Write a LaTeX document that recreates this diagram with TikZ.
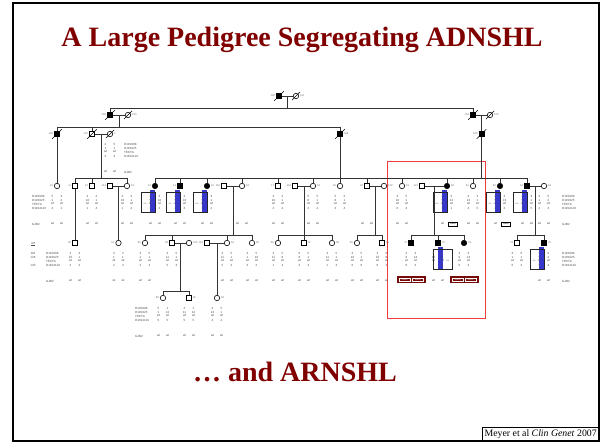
\documentclass[tikz,border=0pt]{standalone}
\usepackage{fontspec}
\setmainfont{Liberation Serif}
\newfontfamily\arialf{Liberation Sans}
\usetikzlibrary{calc}
\definecolor{titred}{RGB}{128,0,0}
\definecolor{hapblue}{RGB}{55,55,205}
\definecolor{mutred}{RGB}{120,10,10}
\definecolor{framered}{RGB}{240,60,60}
\newcommand{\gfont}{\arialf\fontsize{3}{3}\selectfont}
\newcommand{\ifont}{\arialf\fontsize{2.6}{2.6}\selectfont}
\newcommand{\cfont}{\arialf\fontsize{1.8}{1.8}\selectfont}
\tikzset{
 ln/.style={draw=black!80, line width=0.7pt},
 msq/.style={draw=black, rectangle, minimum size=5pt, inner sep=0pt, fill=white, line width=0.6pt},
 fci/.style={draw=black, circle, minimum size=5.4pt, inner sep=0pt, fill=white, line width=0.6pt},
 aff/.style={fill=black},
 slash/.style={draw=black, line width=0.45pt},
 idl/.style={font=\ifont, text=black!60, inner sep=0pt},
 gtx/.style={font=\gfont, text=black!70, inner sep=0pt},
 mk/.style={font=\gfont, text=black!70, inner sep=0pt, anchor=west},
 hapbox/.style={draw=black!85, line width=0.6pt},
 hapbar/.style={fill=hapblue},
 critx/.style={font=\cfont, text=black!70, inner sep=0pt},
 mutbox/.style={fill=mutred, draw=mutred, minimum width=28pt, minimum height=6pt, inner sep=0pt},
 mutin/.style={draw=white, line width=0.3pt, minimum width=11pt, minimum height=3.2pt, inner sep=0pt, font=\cfont, text=white},
 hetbox/.style={draw=black, fill=white, line width=0.4pt, minimum width=9pt, minimum height=4.5pt, inner sep=0pt, font=\cfont},
 redbox/.style={draw=framered, line width=0.9pt},
 ttl/.style={font=\bfseries\fontsize{28}{30}\selectfont, text=titred, inner sep=0pt, anchor=base},
}
\newcommand{\gtyp}[4]{\foreach \ga/\gb [count=\gi] in {#4}{%
  \node[gtx] (#1a\gi) at ({#2-4.5},{#3+6+4*\gi}) {\ga};
  \node[gtx] (#1b\gi) at ({#2+4.5},{#3+6+4*\gi}) {\gb};}}
\newcommand{\gjb}[3]{\node[gtx] (#1w1) at ({#2-4.5},{#3+38}) {wt}; \node[gtx] (#1w2) at ({#2+4.5},{#3+38}) {wt};}
\newcommand{\gjbhet}[3]{\node[gtx] (#1w1) at ({#2-4.5},{#3+38}) {wt}; \node[hetbox] (#1w2) at ({#2+6},{#3+38}) {35delG};}
\newcommand{\gjbmut}[3]{\node[mutbox] (#1mb) at ({#2},{#3+36.5}) {}; \node[mutin] (#1m1) at ({#2-6.5},{#3+36.5}) {35delG}; \node[mutin] (#1m2) at ({#2+6.5},{#3+36.5}) {35delG};}
\newcommand{\hapL}[3]{\fill[hapbar] ({#2-5},{#3+4}) rectangle ({#2},{#3+27}); \draw[hapbox] ({#2-14},{#3+6}) rectangle ({#2},{#3+26}); \node[critx] (#1c) at ({#2-10},{#3+18}) {Crit};}
\newcommand{\hapR}[3]{\fill[hapbar] ({#2},{#3+4}) rectangle ({#2+5},{#3+27}); \draw[hapbox] ({#2-5},{#3+6}) rectangle ({#2+14},{#3+26}); \node[critx] (#1c) at ({#2+9.5},{#3+18}) {Crit};}
\newcommand{\mkrs}[3]{\node[mk] (#1m1) at (#2,{#3+10}) {D11S908}; \node[mk] (#1m2) at (#2,{#3+14}) {D11S925}; \node[mk] (#1m3) at (#2,{#3+18}) {TECTA}; \node[mk] (#1m4) at (#2,{#3+22}) {D11S4110}; \node[mk] (#1m5) at (#2,{#3+38}) {GJB2};}
\newcommand{\lidl}[2]{\node[idl,anchor=east] (#1-l) at ([xshift=-1pt]#1.west) {#2};}
\newcommand{\ridl}[2]{\node[idl,anchor=west] (#1-l) at ([xshift=1pt]#1.east) {#2};}
\newcommand{\deceased}[1]{\draw[slash] ([shift={(-2pt,-2pt)}]#1.south west) -- ([shift={(2pt,2pt)}]#1.north east);}
\newcommand{\sibdrop}[2]{\draw[ln] (#1) -- (#1 |- #2);}
\begin{document}
\begin{tikzpicture}[x=1pt,y=-1pt]
\useasboundingbox (0,0) rectangle (602,444);
\fill[white] (0,0) rectangle (602,444);
\draw[black, line width=1.6pt] (13,3) rectangle (599,441);
\node[ttl] (title) at (302,47) {A Large Pedigree Segregating ADNSHL};
\node[ttl] (arnshl) at (295,381) {\ldots\ and ARNSHL};
\node[draw=black, line width=0.6pt, fill=white, inner sep=2pt, font=\fontsize{9.8}{10}\selectfont, anchor=south east] (cite) at (599,441) {Meyer et al \textit{Clin Genet} 2007};
\draw[redbox] (387,161) rectangle (485,318);

% ---------- haplotype boxes ----------
\hapL{h13}{155}{186} \hapL{h14}{180}{186} \hapL{h15}{207}{186}
\hapL{h60}{447}{186} \hapL{h62}{500}{186} \hapL{h63}{527}{186}
\hapR{h72}{438}{243} \hapL{h75}{544}{243}

% ---------- Generation I ----------
\node[msq,aff] (I1) at (279,96) {};
\node[fci] (I2) at (296,96) {};
% ---------- Generation II ----------
\node[msq,aff] (II1) at (110,115) {};
\node[fci] (II2) at (128,115) {};
\node[msq,aff] (II3) at (473,115) {};
\node[fci] (II4) at (490,115) {};
% ---------- Generation III ----------
\node[msq,aff] (III1) at (57,134) {};
\node[msq] (III2) at (92,134) {};
\node[fci] (III3) at (110,134) {};
\node[msq,aff] (III4) at (340,134) {};
\node[msq,aff] (III6) at (481.5,134) {};
% ---------- Generation IV ----------
\node[fci] (IV10) at (57,186) {};
\node[msq] (IV11) at (75,186) {};
\node[msq] (IV12) at (92,186) {};
\node[msq] (IV13s) at (110,186) {};
\node[fci] (IV52) at (127,186) {};
\node[fci,aff] (IV13) at (155,186) {};
\node[msq,aff] (IV14) at (180,186) {};
\node[fci,aff] (IV15) at (207,186) {};
\node[msq] (IV116) at (224,186) {};
\node[fci] (IV16) at (242,186) {};
\node[msq] (IV17) at (278,186) {};
\node[msq] (IV118) at (295,186) {};
\node[fci] (IV18) at (313,186) {};
\node[fci] (IV19) at (340,186) {};
\node[msq] (IV20) at (367,186) {};
\node[fci] (IV120) at (384,186) {};
\node[fci] (IV21) at (402,186) {};
\node[msq] (IV121) at (422,186) {};
\node[fci,aff] (IV60) at (447,186) {};
\node[fci] (IV61) at (473,186) {};
\node[fci,aff] (IV62) at (500,186) {};
\node[msq,aff] (IV63) at (527,186) {};
\node[fci] (IV64) at (544,186) {};
% ---------- Generation V ----------
\node[msq] (V50) at (75,243) {};
\node[fci] (V51) at (118.5,243) {};
\node[fci] (V52) at (145,243) {};
\node[msq] (V53) at (172,243) {};
\node[fci] (V122) at (189,243) {};
\node[msq] (V123) at (207,243) {};
\node[fci] (V54) at (227,243) {};
\node[fci] (V55) at (252,243) {};
\node[fci] (V56) at (278,243) {};
\node[msq] (V57) at (304,243) {};
\node[fci] (V58) at (332,243) {};
\node[fci] (V59) at (357,243) {};
\node[msq] (V69) at (382,243) {};
\node[msq,aff] (V71) at (411,243) {};
\node[msq,aff] (V72) at (438,243) {};
\node[fci,aff] (V73) at (464,243) {};
\node[msq] (V74) at (517,243) {};
\node[msq,aff] (V75) at (544,243) {};
% ---------- Generation VI ----------
\node[fci] (VI80) at (163,298) {};
\node[msq] (VI81) at (189,298) {};
\node[fci] (VI82) at (217,298) {};

% ---------- deceased ----------
\deceased{I1} \deceased{I2} \deceased{II1} \deceased{II2} \deceased{II3} \deceased{II4}
\deceased{III1} \deceased{III2} \deceased{III3} \deceased{III4} \deceased{III6}

% ---------- IDs ----------
\lidl{I1}{100} \ridl{I2}{101} \lidl{II1}{102} \ridl{II2}{103} \lidl{II3}{104} \ridl{II4}{105}
\lidl{III1}{106} \lidl{III2}{107} \ridl{III3}{1} \ridl{III4}{108} \lidl{III6}{109}
\lidl{IV10}{10} \lidl{IV11}{11} \lidl{IV12}{12} \lidl{IV13s}{113} \ridl{IV52}{52}
\lidl{IV13}{13} \lidl{IV14}{14} \ridl{IV15}{15} \lidl{IV116}{116} \ridl{IV16}{16}
\lidl{IV17}{17} \lidl{IV118}{118} \ridl{IV18}{18} \lidl{IV19}{19} \lidl{IV20}{20}
\ridl{IV120}{120} \ridl{IV21}{21} \lidl{IV121}{121} \ridl{IV60}{60} \lidl{IV61}{61}
\lidl{IV62}{62} \lidl{IV63}{63} \ridl{IV64}{64}
\lidl{V50}{50} \lidl{V51}{51} \lidl{V52}{52} \lidl{V53}{53} \ridl{V122}{122}
\lidl{V123}{123} \ridl{V54}{54} \ridl{V55}{55} \lidl{V56}{56} \ridl{V57}{57}
\ridl{V58}{58} \lidl{V59}{59} \ridl{V69}{69} \lidl{V71}{71} \ridl{V72}{72}
\ridl{V73}{73} \lidl{V74}{74} \ridl{V75}{75}
\lidl{VI80}{80} \ridl{VI81}{81} \ridl{VI82}{82}

% ---------- connectors ----------
\draw[ln] (I1) -- (I2);
\coordinate (mI) at ($(I1)!0.5!(I2)$);
\coordinate (sII) at (287.5,108);
\draw[ln] (mI) -- (sII);
\draw[ln] (II1 |- sII) -- (II3 |- sII);
\sibdrop{II1}{sII} \sibdrop{II3}{sII}
\draw[ln] (II1) -- (II2);
\coordinate (mII1) at ($(II1)!0.5!(II2)$);
\coordinate (sIII) at (119,127);
\draw[ln] (mII1) -- (sIII);
\draw[ln] (III1 |- sIII) -- (III4 |- sIII);
\sibdrop{III1}{sIII} \sibdrop{III2}{sIII} \sibdrop{III4}{sIII}
\draw[ln] (II3) -- (II4);
\coordinate (mII2) at ($(II3)!0.5!(II4)$);
\draw[ln] (mII2) -- (III6);
\draw[ln] (III1) -- (IV10);
\draw[ln] (III2) -- (III3);
\coordinate (mIII) at ($(III2)!0.5!(III3)$);
\coordinate (sIVB) at (101,178);
\draw[ln] (mIII) -- (sIVB);
\draw[ln] (IV11 |- sIVB) -- (IV52 |- sIVB);
\sibdrop{IV11}{sIVB} \sibdrop{IV12}{sIVB} \sibdrop{IV52}{sIVB}
\coordinate (sIVC) at (340,178);
\draw[ln] (III4) -- (sIVC);
\draw[ln] (IV13 |- sIVC) -- (IV21 |- sIVC);
\sibdrop{IV13}{sIVC} \sibdrop{IV14}{sIVC} \sibdrop{IV15}{sIVC} \sibdrop{IV16}{sIVC}
\sibdrop{IV17}{sIVC} \sibdrop{IV18}{sIVC} \sibdrop{IV19}{sIVC} \sibdrop{IV20}{sIVC} \sibdrop{IV21}{sIVC}
\coordinate (sIVD) at (481.5,178);
\draw[ln] (III6) -- (sIVD);
\draw[ln] (IV21 |- sIVD) -- (IV63 |- sIVD);
\sibdrop{IV60}{sIVD} \sibdrop{IV61}{sIVD} \sibdrop{IV62}{sIVD} \sibdrop{IV63}{sIVD}
\draw[ln] (IV13s) -- (IV52);
\draw[ln] (IV116) -- (IV16);
\draw[ln] (IV118) -- (IV18);
\draw[ln] (IV20) -- (IV120);
\draw[ln] (IV121) -- (IV60);
\draw[ln] (IV63) -- (IV64);
\draw[ln] (IV11) -- (V50);
\coordinate (mIVb) at ($(IV13s)!0.5!(IV52)$);
\draw[ln] (mIVb) -- (V51);
\coordinate (mIVc) at ($(IV116)!0.5!(IV16)$);
\coordinate (sVa) at (233,235);
\draw[ln] (mIVc) -- (sVa);
\draw[ln] (V52 |- sVa) -- (V55 |- sVa);
\sibdrop{V52}{sVa} \sibdrop{V53}{sVa} \sibdrop{V54}{sVa} \sibdrop{V55}{sVa}
\coordinate (mIVd) at ($(IV118)!0.5!(IV18)$);
\coordinate (sVb) at (304,235);
\draw[ln] (mIVd) -- (sVb);
\draw[ln] (V56 |- sVb) -- (V58 |- sVb);
\sibdrop{V56}{sVb} \sibdrop{V57}{sVb} \sibdrop{V58}{sVb}
\coordinate (mIVe) at ($(IV20)!0.5!(IV120)$);
\coordinate (sVc) at (375.5,235);
\draw[ln] (mIVe) -- (sVc);
\draw[ln] (V59 |- sVc) -- (V69 |- sVc);
\sibdrop{V59}{sVc} \sibdrop{V69}{sVc}
\coordinate (mIVf) at ($(IV121)!0.5!(IV60)$);
\coordinate (sVd) at (434.5,235);
\draw[ln] (mIVf) -- (sVd);
\draw[ln] (V71 |- sVd) -- (V73 |- sVd);
\sibdrop{V71}{sVd} \sibdrop{V72}{sVd} \sibdrop{V73}{sVd}
\coordinate (mIVg) at ($(IV63)!0.5!(IV64)$);
\coordinate (sVe) at (535.5,235);
\draw[ln] (mIVg) -- (sVe);
\draw[ln] (V74 |- sVe) -- (V75 |- sVe);
\sibdrop{V74}{sVe} \sibdrop{V75}{sVe}
\draw[ln] (V53) -- (V122);
\draw[ln] (V123) -- (V54);
\coordinate (mVa) at ($(V53)!0.5!(V122)$);
\coordinate (sVIa) at (180.5,291);
\draw[ln] (mVa) -- (sVIa);
\draw[ln] (VI80 |- sVIa) -- (VI81 |- sVIa);
\sibdrop{VI80}{sVIa} \sibdrop{VI81}{sVIa}
\coordinate (mVb) at ($(V123)!0.5!(V54)$);
\draw[ln] (mVb) -- (VI82);

% ---------- marker labels ----------
\mkrs{m3}{124}{134}
\mkrs{m4l}{32}{186}
\mkrs{m4r}{562}{186}
\mkrs{m5l}{46}{243}
\mkrs{m5r}{562}{243}
\mkrs{m6}{135}{298}
\node[gtx] (cM) at (33,244) {\underline{cM}};
\node[gtx] (cM1) at (33,253) {116};
\node[gtx] (cM2) at (33,257) {126};
\node[gtx] (cM4) at (33,265) {135};

% ---------- genotypes ----------
\gtyp{g3}{110}{134}{2/5,1/1,wt/wt,4/4} \gjb{g3}{110}{134}
\gtyp{g10}{57}{186}{5/3,1/2,wt/wt,4/1} \gjb{g10}{57}{186}
\gtyp{g12}{92}{186}{3/2,10/1,wt/wt,1/4} \gjb{g12}{92}{186}
\gtyp{g52}{127}{186}{4/2,10/1,wt/wt,1/4} \gjb{g52}{127}{186}
\gtyp{g13}{155}{186}{2/3,9/10,wt/wt,3/2} \gjb{g13}{155}{186}
\gtyp{g14}{180}{186}{2/3,9/10,wt/wt,3/3} \gjb{g14}{180}{186}
\gtyp{g15}{207}{186}{2/3,9/1,wt/wt,3/2} \gjb{g15}{207}{186}
\gjb{g16}{242}{186}
\gtyp{g17}{278}{186}{3/2,10/1,wt/wt,2/4} \gjb{g17}{278}{186}
\gtyp{g18}{313}{186}{5/5,8/1,wt/wt,3/4} \gjb{g18}{313}{186}
\gtyp{g19}{340}{186}{5/2,8/1,wt/wt,3/4}
\gjb{g20}{367}{186}
\gtyp{g21}{402}{186}{3/5,10/1,wt/wt,6/4} \gjb{g21}{402}{186}
\gtyp{g60}{447}{186}{2/3,9/12,wt/wt,3/1} \gjbhet{g60}{447}{186}
\gtyp{g61}{473}{186}{3/3,12/1,wt/wt,4/5} \gjb{g61}{473}{186}
\gtyp{g62}{500}{186}{2/3,9/13,wt/wt,3/3} \gjbhet{g62}{500}{186}
\gtyp{g63}{527}{186}{2/3,9/1,wt/wt,3/5} \gjb{g63}{527}{186}
\gtyp{g64}{544}{186}{2/5,1/2,wt/wt,2/3} \gjb{g64}{544}{186}
\gtyp{g50}{75}{243}{3/4,10/1,wt/wt,3/4} \gjb{g50}{75}{243}
\gtyp{g51}{118.5}{243}{3/2,1/1,wt/wt,2/4} \gjb{g51}{118.5}{243}
\gtyp{g52v}{145}{243}{3/5,1/1,wt/wt,2/4} \gjb{g52v}{145}{243}
\gtyp{g53}{172}{243}{4/5,11/1,wt/wt,5/3}
\gtyp{g54}{227}{243}{4/5,11/1,wt/wt,5/4} \gjb{g54}{227}{243}
\gtyp{g55}{252}{243}{3/5,1/10,wt/wt,3/2} \gjb{g55}{252}{243}
\gtyp{g56}{278}{243}{3/5,11/8,wt/wt,1/4} \gjb{g56}{278}{243}
\gtyp{g57}{304}{243}{6/5,8/1,wt/wt,2/3} \gjb{g57}{304}{243}
\gtyp{g58}{332}{243}{3/5,11/1,wt/wt,1/4} \gjb{g58}{332}{243}
\gtyp{g59}{357}{243}{3/5,10/1,wt/wt,6/6} \gjb{g59}{357}{243}
\gtyp{g69}{382}{243}{3/6,10/8,wt/wt,6/2} \gjb{g69}{382}{243}
\gtyp{g71}{411}{243}{3/3,9/13,wt/wt,6/3} \gjbmut{g71}{411}{243}
\gtyp{g72}{438}{243}{3/2,12/9,wt/wt,1/3} \gjb{g72}{438}{243}
\gtyp{g73}{464}{243}{3/3,9/13,wt/wt,6/3} \gjbmut{g73}{464}{243}
\gtyp{g74}{517}{243}{3/6,1/1,wt/wt,6/2}
\gtyp{g75}{544}{243}{2/5,9/2,wt/wt,3/3} \gjb{g75}{544}{243}
\gtyp{g80}{163}{298}{5/1,1/12,wt/wt,5/5} \gjb{g80}{163}{298}
\gtyp{g81}{189}{298}{4/1,11/12,wt/wt,5/5} \gjb{g81}{189}{298}
\gtyp{g82}{217}{298}{3/5,12/1,wt/wt,4/4} \gjb{g82}{217}{298}
\end{tikzpicture}
\end{document}
